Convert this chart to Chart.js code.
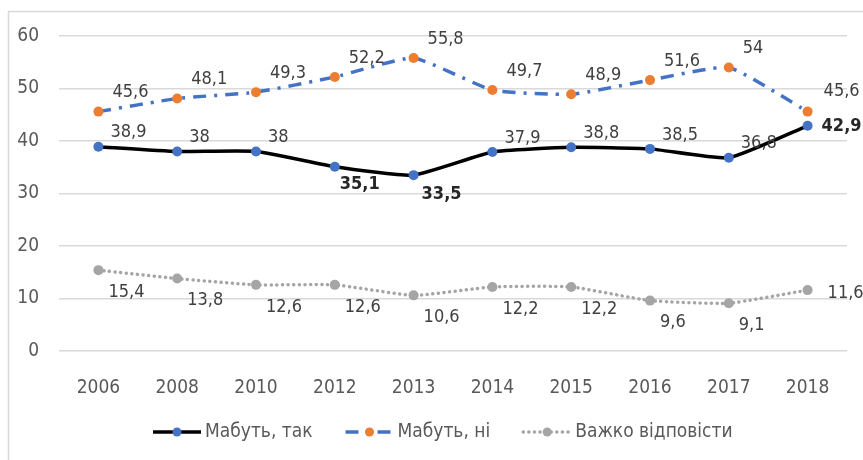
<!DOCTYPE html>
<html>
<head>
<meta charset="utf-8">
<script src="https://cdn.jsdelivr.net/npm/chart.js@4.4.0/dist/chart.umd.min.js"></script>
<style>
html, body { margin: 0; padding: 0; background: #fff; }
#wrap { width: 863px; height: 460px; }
</style>
</head>
<body>
<div id="wrap"><canvas id="mycanvas" width="863" height="460"></canvas></div>
<script>
var years = ['2006', '2008', '2010', '2012', '2013', '2014', '2015', '2016', '2017', '2018'];
var probablyYes = [38.9, 38, 38, 35.1, 33.5, 37.9, 38.8, 38.5, 36.8, 42.9];
var probablyNo = [45.6, 48.1, 49.3, 52.2, 55.8, 49.7, 48.9, 51.6, 54, 45.6];
var hardToSay = [15.4, 13.8, 12.6, 12.6, 10.6, 12.2, 12.2, 9.6, 9.1, 11.6];
var seriesNames = ['Мабуть, так', 'Мабуть, ні', 'Важко відповісти'];

var FONT = '"Liberation Sans Narrow", "DejaVu Sans Condensed", sans-serif';

// where each value label sits relative to its point
var labelPlace = [
	{ dx: 12, dy: -14, bold: false, special: { 3: { dx: 5, dy: 18, bold: true }, 4: { dx: 8, dy: 19, bold: true }, 9: { dx: 14, dy: 1, bold: true } } },
	{ dx: 14, dy: -19, bold: false, special: { 9: { dx: 16, dy: -20 } } },
	{ dx: 10, dy: 22, bold: false, special: { 9: { dx: 20, dy: 3 } } }
];

function fmt(v) {
	return String(v).replace('.', ',');
}

var valueLabels = {
	id: 'valueLabels',
	afterDatasetsDraw: function(chart) {
		var ctx = chart.ctx;
		ctx.save();
		ctx.textAlign = 'left';
		ctx.textBaseline = 'middle';
		chart.data.datasets.forEach(function(ds, di) {
			var meta = chart.getDatasetMeta(di);
			var place = labelPlace[di];
			meta.data.forEach(function(pt, i) {
				var p = place.special[i] || {};
				var dx = p.dx !== undefined ? p.dx : place.dx;
				var dy = p.dy !== undefined ? p.dy : place.dy;
				var bold = p.bold !== undefined ? p.bold : place.bold;
				ctx.font = (bold ? 'bold ' : '') + '18px ' + FONT;
				ctx.fillStyle = bold ? '#262626' : '#404040';
				ctx.fillText(fmt(ds.data[i]), pt.x + dx, pt.y + dy);
			});
		});
		ctx.restore();
	}
};

var frameAndLegend = {
	id: 'frameAndLegend',
	beforeDraw: function(chart) {
		var ctx = chart.ctx;
		ctx.save();
		ctx.strokeStyle = '#d9d9d9';
		ctx.lineWidth = 1.5;
		ctx.beginPath();
		ctx.moveTo(8.5, 460);
		ctx.lineTo(8.5, 11.5);
		ctx.lineTo(863, 11.5);
		ctx.stroke();
		ctx.restore();
	},
	afterDraw: function(chart) {
		var ctx = chart.ctx;
		var y = 432;
		var x = 153;
		ctx.save();
		ctx.font = '19px ' + FONT;
		ctx.textBaseline = 'middle';
		ctx.textAlign = 'left';
		chart.data.datasets.forEach(function(ds, di) {
			ctx.save();
			ctx.strokeStyle = ds.borderColor;
			ctx.lineWidth = ds.borderWidth;
			ctx.lineCap = ds.borderCapStyle || 'butt';
			ctx.setLineDash(ds.borderDash || []);
			ctx.beginPath();
			ctx.moveTo(x, y);
			ctx.lineTo(x + 48, y);
			ctx.stroke();
			ctx.setLineDash([]);
			ctx.fillStyle = ds.pointBackgroundColor;
			ctx.beginPath();
			ctx.arc(x + 24, y, 4.5, 0, Math.PI * 2);
			ctx.fill();
			ctx.restore();
			ctx.fillStyle = '#595959';
			ctx.fillText(seriesNames[di], x + 52, y);
			x += 52 + ctx.measureText(seriesNames[di]).width + 33;
		});
		ctx.restore();
	}
};

var ctx = document.getElementById('mycanvas');

var lineChart = new Chart(ctx, {
	type: 'line',
	data: {
		labels: years,
		datasets: [
			{
				label: seriesNames[0],
				data: probablyYes,
				borderColor: '#000000',
				borderWidth: 3.5,
				pointBackgroundColor: '#4472C4',
				pointBorderColor: '#4472C4',
				pointBorderWidth: 0,
				pointRadius: 5,
				tension: 0.15
			},
			{
				label: seriesNames[1],
				data: probablyNo,
				borderColor: '#4472C4',
				borderWidth: 3.5,
				borderDash: [13, 8, 3, 8],
				pointBackgroundColor: '#ED7D31',
				pointBorderColor: '#ED7D31',
				pointBorderWidth: 0,
				pointRadius: 5,
				tension: 0.15
			},
			{
				label: seriesNames[2],
				data: hardToSay,
				borderColor: '#A5A5A5',
				borderWidth: 3.5,
				borderDash: [0.1, 5.5],
				borderCapStyle: 'round',
				pointBackgroundColor: '#A5A5A5',
				pointBorderColor: '#A5A5A5',
				pointBorderWidth: 0,
				pointRadius: 5,
				tension: 0.15
			}
		]
	},
	options: {
		responsive: false,
		animation: false,
		devicePixelRatio: 1,
		layout: { padding: { top: 36, right: 16, bottom: 50, left: 0 } },
		plugins: {
			legend: { display: false },
			tooltip: { enabled: false }
		},
		scales: {
			x: {
				offset: true,
				grid: { display: false },
				border: { display: false },
				ticks: { color: '#595959', font: { family: FONT, size: 19 }, padding: 18, maxRotation: 0 },
				afterFit: function(scale) { scale.height = 59; }
			},
			y: {
				min: 0,
				max: 60,
				grid: { color: '#d9d9d9', lineWidth: 1.5, drawTicks: false },
				border: { display: false },
				ticks: { stepSize: 10, color: '#595959', font: { family: FONT, size: 19 }, padding: 20 },
				afterFit: function(scale) { scale.width = 59; }
			}
		}
	},
	plugins: [valueLabels, frameAndLegend]
});
</script>
</body>
</html>
